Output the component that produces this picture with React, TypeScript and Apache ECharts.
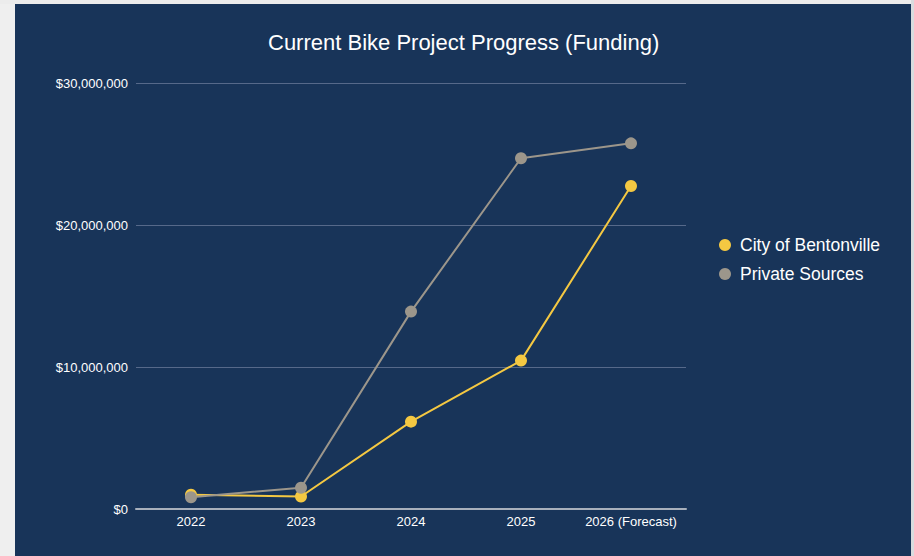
import React, { useEffect, useRef } from "react";
import * as echarts from "echarts";

const categories = ["2022", "2023", "2024", "2025", "2026 (Forecast)"];
const cityOfBentonville = [1000000, 880000, 6150000, 10450000, 22750000];
const privateSources = [830000, 1500000, 13900000, 24700000, 25750000];
const yTicks = [0, 10000000, 20000000, 30000000];

const FONT = "'Liberation Sans', Arial, Helvetica, sans-serif";

export default function App() {
  const ref = useRef<HTMLDivElement>(null);
  useEffect(() => {
    document.body.style.margin = "0";
    const chart = echarts.init(ref.current!, null, { renderer: "svg" });
    chart.setOption({
      animation: false,
      backgroundColor: "#183459",
      textStyle: { fontFamily: FONT },
      graphic: [
        { type: "rect", left: 0, top: 0, shape: { width: 15, height: 556 }, style: { fill: "#efefef" }, silent: true },
        { type: "rect", left: 0, top: 0, shape: { width: 914, height: 4 }, style: { fill: "#ececec" }, silent: true },
        { type: "rect", left: 911, top: 0, shape: { width: 3, height: 556 }, style: { fill: "#d9dbde" }, silent: true },
      ],
      title: {
        text: "Current Bike Project Progress (Funding)",
        left: 263,
        top: 26,
        textStyle: { color: "#ffffff", fontSize: 22, fontWeight: "normal", fontFamily: FONT },
      },
      legend: {
        orient: "vertical",
        left: 714,
        top: 231,
        itemWidth: 20,
        itemHeight: 12,
        itemGap: 11,
        icon: "circle",
        data: ["City of Bentonville", "Private Sources"],
        textStyle: { color: "#ffffff", fontSize: 17.5, fontFamily: FONT },
      },
      grid: { left: 136, right: 228, top: 83, bottom: 47, containLabel: false },
      xAxis: {
        type: "category",
        data: categories,
        boundaryGap: true,
        axisLine: { show: true, lineStyle: { color: "#a8b0bc", width: 2 } },
        axisTick: { show: false },
        axisLabel: { color: "#ffffff", fontSize: 13, margin: 6, interval: 0, fontFamily: FONT },
      },
      yAxis: {
        type: "value",
        min: yTicks[0],
        max: yTicks[yTicks.length - 1],
        interval: yTicks[1] - yTicks[0],
        axisLine: { show: false },
        axisTick: { show: false },
        splitLine: { lineStyle: { color: "#56698a", width: 1 } },
        axisLabel: {
          color: "#ffffff",
          fontSize: 13,
          margin: 8,
          fontFamily: FONT,
          formatter: (v: number) => "$" + v.toLocaleString("en-US"),
        },
      },
      series: [
        {
          name: "City of Bentonville",
          type: "line",
          data: cityOfBentonville,
          symbol: "circle",
          symbolSize: 12,
          color: "#f4c842",
          lineStyle: { width: 2, color: "#f4c842" },
          itemStyle: { color: "#f4c842" },
        },
        {
          name: "Private Sources",
          type: "line",
          data: privateSources,
          symbol: "circle",
          symbolSize: 12,
          color: "#9c968b",
          lineStyle: { width: 2, color: "#9c968b" },
          itemStyle: { color: "#9c968b" },
        },
      ],
    });
    return () => chart.dispose();
  }, []);
  return (
    <div style={{ position: "absolute", left: 0, top: 0, width: 914, height: 556 }}>
      <div ref={ref} style={{ width: 914, height: 556 }} />
    </div>
  );
}
